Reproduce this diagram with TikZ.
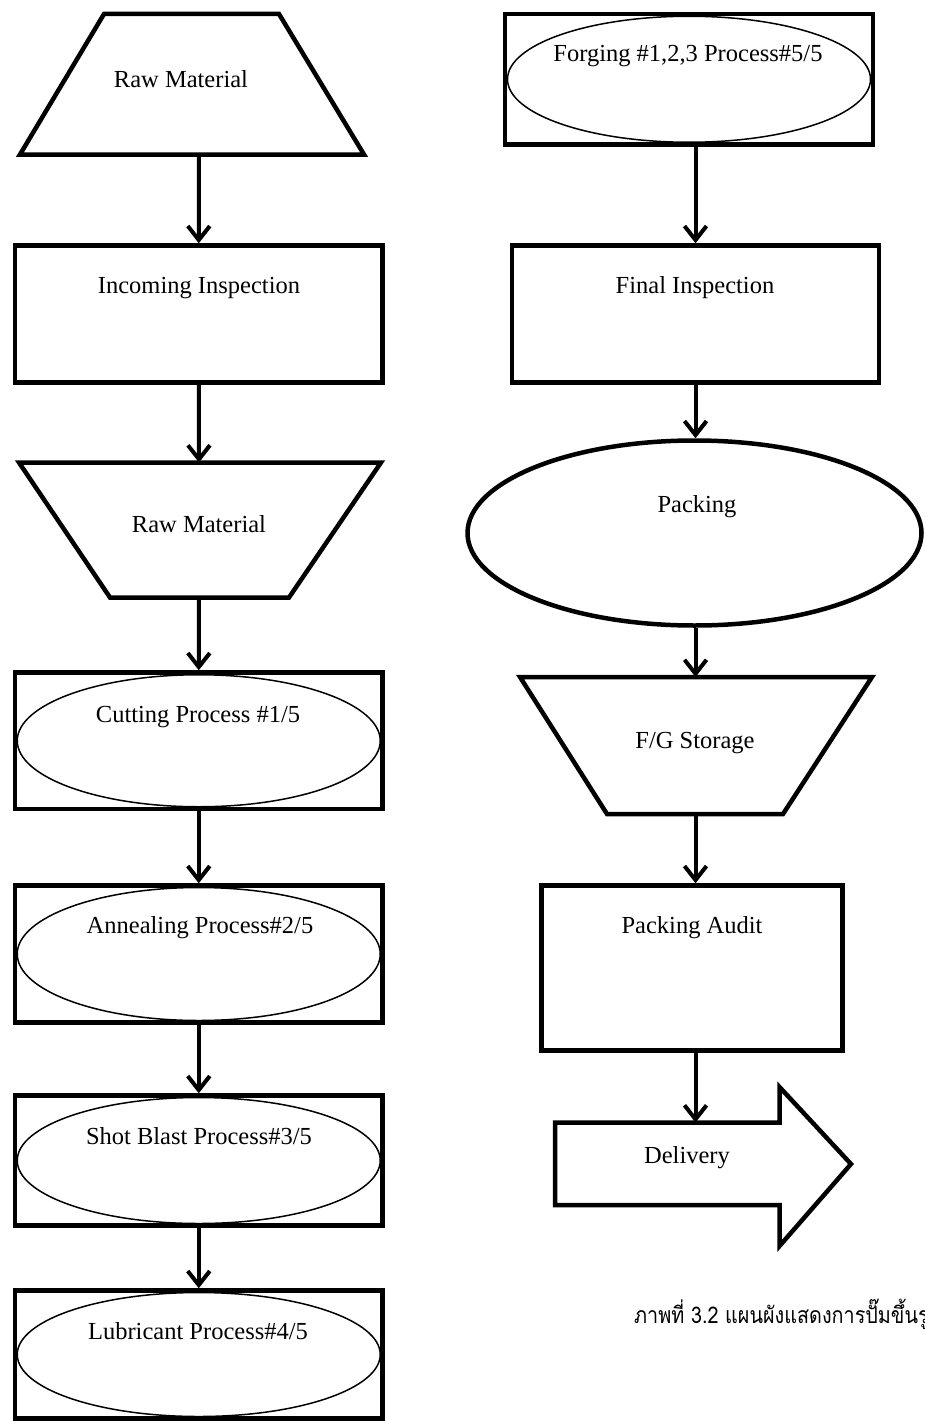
\documentclass[tikz,border=0pt]{standalone}
\usepackage{fontspec}
\setmainfont{Liberation Serif}
\newfontfamily\thaifont[Script=Thai, FakeStretch=0.86]{Loma}
\usetikzlibrary{arrows.meta,shapes.geometric}
\begin{document}
\begin{tikzpicture}[x=1pt,y=-1pt,
  frame/.style={draw, line width=4.5pt, rectangle, inner sep=0pt},
  oval/.style={draw, line width=1.5pt, ellipse, inner sep=0pt},
  bigoval/.style={draw, line width=4.5pt, ellipse, inner sep=0pt},
  outline/.style={draw, line width=4.5pt, line join=miter},
  lbl/.style={anchor=base, inner sep=0pt, font=\fontsize{24.5}{28}\selectfont},
  conn/.style={line width=4pt, -{Straight Barb[length=14pt,width=22pt]},
    preaction={draw=black!35, transform canvas={shift={(1.2pt,-1.2pt)}}}},
]
\useasboundingbox (0,0) rectangle (924,1421);

% ---------- left column ----------
% raw material (trapezoid)
\draw[outline] (20,154.5) -- (104,14) -- (279,14) -- (364,154.5) -- cycle;
\coordinate (rawA) at (199,154.5);
\node[lbl] (rawAt) at (181,87) {Raw Material};

% incoming inspection
\node[frame, minimum width=367.5pt, minimum height=137pt] (inc) at (198.75,314) {};
\node[lbl] (inct) at (199,293) {Incoming Inspection};

% raw material (inverted trapezoid)
\draw[outline] (19,462.5) -- (381,462.5) -- (289,597.5) -- (110,597.5) -- cycle;
\coordinate (rawBtop) at (199,462.5);
\coordinate (rawBbot) at (199,597.5);
\node[lbl] (rawBt) at (199,532) {Raw Material};

% process boxes with ellipses
\node[frame, minimum width=367.5pt, minimum height=136.5pt] (cut) at (198.75,740.75) {};
\node[oval, minimum width=363pt, minimum height=132pt] (cuto) at (198.75,740.75) {};
\node[lbl] (cutt) at (198,722) {Cutting Process \#1/5};

\node[frame, minimum width=367.5pt, minimum height=137pt] (ann) at (198.75,954) {};
\node[oval, minimum width=363pt, minimum height=133pt] (anno) at (198.75,954) {};
\node[lbl] (annt) at (200,933) {Annealing Process\#2/5};

\node[frame, minimum width=367.5pt, minimum height=130pt] (shot) at (198.75,1160.5) {};
\node[oval, minimum width=363pt, minimum height=126pt] (shoto) at (198.75,1160.5) {};
\node[lbl] (shott) at (199,1144) {Shot Blast Process\#3/5};

\node[frame, minimum width=367.5pt, minimum height=128pt] (lub) at (198.75,1354.5) {};
\node[oval, minimum width=363pt, minimum height=124pt] (lubo) at (198.75,1354.5) {};
\node[lbl] (lubt) at (198,1339) {Lubricant Process\#4/5};

% ---------- right column ----------
\node[frame, minimum width=368pt, minimum height=130.5pt] (forge) at (689,79.25) {};
\node[oval, minimum width=363pt, minimum height=126pt] (forgeo) at (689,79.25) {};
\node[lbl] (forget) at (688,62) {Forging \#1,2,3 Process\#5/5};

\node[frame, minimum width=367pt, minimum height=137pt] (final) at (695.5,314) {};
\node[lbl] (finalt) at (695,293) {Final Inspection};

\node[bigoval, minimum width=454pt, minimum height=185pt] (pack) at (694.5,533) {};
\node[lbl] (packt) at (697,512) {Packing};

\draw[outline] (520,677) -- (872,677) -- (783,814) -- (607,814) -- cycle;
\coordinate (fgtop) at (695.5,677);
\coordinate (fgbot) at (695.5,814);
\node[lbl] (fgt) at (695,748) {F/G Storage};

\node[frame, minimum width=301pt, minimum height=165pt] (audit) at (692,968) {};
\node[lbl] (auditt) at (692,933) {Packing Audit};

% delivery block arrow
\draw[outline] (555,1122.5) -- (779.5,1122.5) -- (779.5,1087) -- (851,1164)
  -- (779.5,1246) -- (779.5,1205) -- (555,1205) -- cycle;
\coordinate (deltop) at (695.5,1122.5);
\node[lbl] (delt) at (687,1163) {Delivery};

% ---------- connectors ----------
\draw[conn] (rawA) -- (inc.north);
\draw[conn] (inc.south) -- (rawBtop);
\draw[conn] (rawBbot) -- (cut.north);
\draw[conn] (cut.south) -- (ann.north);
\draw[conn] (ann.south) -- (shot.north);
\draw[conn] (shot.south) -- (lub.north);

\draw[conn] (final.north |- forge.south) -- (final.north);
\draw[conn] (final.south) -- (final.south |- pack.north);
\draw[conn] (pack.south -| fgtop) -- (fgtop);
\draw[conn] (fgbot) -- (fgbot |- audit.north);
\draw[conn] (deltop |- audit.south) -- (deltop);

% ---------- caption ----------
\begin{scope}
\clip (0,0) rectangle (924,1421);
\node[anchor=base west, inner sep=0pt, font=\thaifont\fontsize{23}{27}\selectfont] (cap)
  at (634,1323) {ภาพที่ 3.2 แผนผังแสดงการปั๊มขึ้นรูป};
\end{scope}
\end{tikzpicture}
\end{document}
